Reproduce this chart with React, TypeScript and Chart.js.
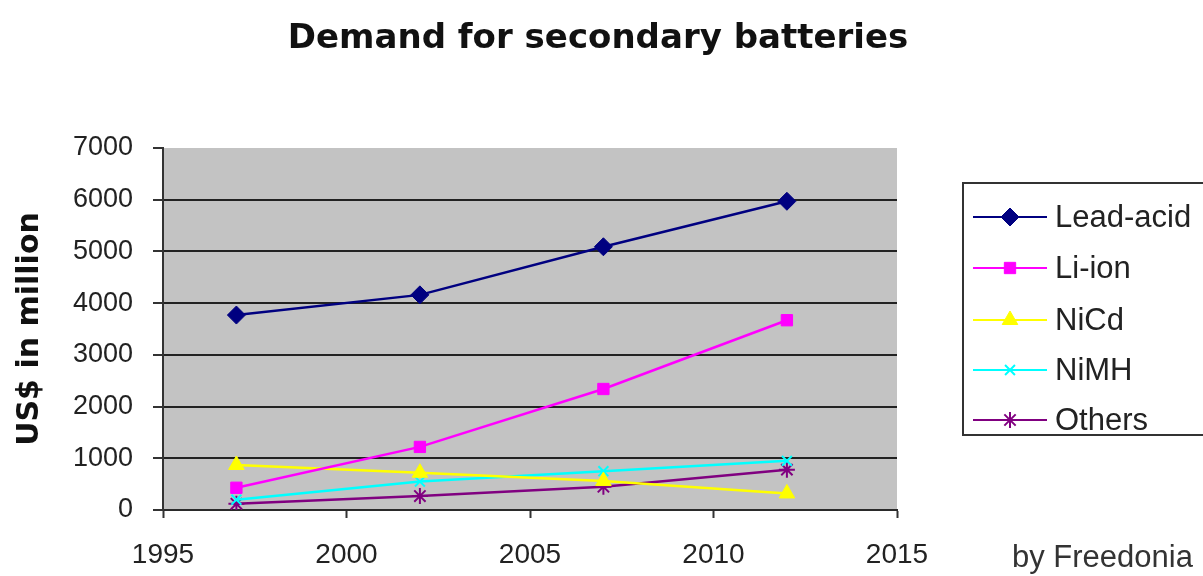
import React, { useEffect, useRef } from "react";
import { Chart, registerables } from "chart.js";
import { drawPoint } from "chart.js/helpers";

Chart.register(...registerables);

const years = [1997, 2002, 2007, 2012];
const leadAcid = [3770, 4160, 5090, 5970];
const liIon = [430, 1220, 2340, 3670];
const niCd = [870, 720, 560, 320];
const niMH = [200, 550, 750, 950];
const others = [120, 270, 450, 780];

const seriesNames = ["Lead-acid", "Li-ion", "NiCd", "NiMH", "Others"];
const yTicks = [0, 1000, 2000, 3000, 4000, 5000, 6000, 7000];
const xTicks = [1995, 2000, 2005, 2010, 2015];

const titleText = "Demand for secondary batteries";
const yTitle = "US$ in million";
const sourceText = "by Freedonia";

const pts = (vals: number[]) => years.map((y, i) => ({ x: y, y: vals[i] }));

const bgPlugin = {
  id: "bgPlugin",
  beforeDraw(chart: any) {
    const { ctx, chartArea: a } = chart;
    ctx.save();
    ctx.fillStyle = "#ffffff";
    ctx.fillRect(0, 0, chart.width, chart.height);
    ctx.fillStyle = "#c3c3c3";
    ctx.fillRect(a.left, a.top, a.right - a.left, a.bottom - a.top);
    ctx.restore();
  },
  afterDraw(chart: any) {
    const { ctx } = chart;
    ctx.save();
    // title
    ctx.fillStyle = "#111";
    ctx.font = "bold 34px 'DejaVu Sans'";
    ctx.textAlign = "center";
    ctx.textBaseline = "alphabetic";
    ctx.fillText(titleText, 598, 48);
    // source
    ctx.fillStyle = "#333";
    ctx.font = "31px 'Liberation Sans'";
    ctx.textAlign = "left";
    ctx.fillText(sourceText, 1012, 567);
    // legend
    const bx = 963, by = 183, bw = 260, bh = 252;
    ctx.strokeStyle = "#333";
    ctx.lineWidth = 2;
    ctx.strokeRect(bx, by, bw, bh);
    const rows = [217, 268, 320, 370, 420];
    chart.data.datasets.forEach((ds: any, i: number) => {
      const y = rows[i];
      ctx.strokeStyle = ds.borderColor;
      ctx.lineWidth = 2;
      ctx.beginPath();
      ctx.moveTo(973, y);
      ctx.lineTo(1047, y);
      ctx.stroke();
      ctx.save();
      ctx.fillStyle = ds.pointBackgroundColor;
      ctx.strokeStyle = ds.pointBorderColor;
      ctx.lineWidth = ds.pointBorderWidth;
      drawPoint(ctx, {
        pointStyle: ds.pointStyle,
        radius: ds.pointRadius,
        borderWidth: ds.pointBorderWidth,
        rotation: 0,
      } as any, 1010, y);
      ctx.restore();
      ctx.fillStyle = "#222";
      ctx.font = "31px 'Liberation Sans'";
      ctx.textAlign = "left";
      ctx.textBaseline = "middle";
      ctx.fillText(ds.label, 1055, y + 1);
    });
    ctx.restore();
  },
};

export default function App() {
  const ref = useRef<HTMLCanvasElement>(null);
  useEffect(() => {
    document.body.style.margin = "0";
    const mk = (label: string, vals: number[], color: string, style: string, r: number, bw: number) => ({
      label,
      data: pts(vals),
      borderColor: color,
      backgroundColor: color,
      borderWidth: 2.5,
      pointStyle: style,
      pointRadius: r,
      pointBorderWidth: bw,
      pointBackgroundColor: color,
      pointBorderColor: color,
      tension: 0,
    });
    const chart = new Chart(ref.current!, {
      type: "line",
      data: {
        datasets: [
          mk(seriesNames[0], leadAcid, "#000080", "rectRot", 9, 1),
          mk(seriesNames[1], liIon, "#ff00ff", "rect", 8, 1),
          mk(seriesNames[2], niCd, "#ffff00", "triangle", 9, 1),
          mk(seriesNames[3], niMH, "#00ffff", "crossRot", 7, 2),
          mk(seriesNames[4], others, "#800080", "star", 8, 2),
        ] as any,
      },
      options: {
        responsive: false,
        animation: false,
        devicePixelRatio: 1,
        layout: { padding: { left: 0, right: 306, top: 148, bottom: 0 } },
        plugins: {
          legend: { display: false },
          title: { display: false },
          tooltip: { enabled: false },
        },
        scales: {
          x: {
            type: "linear",
            min: 1995,
            max: 2015,
            afterBuildTicks: (s: any) => {
              s.ticks = xTicks.map((v) => ({ value: v }));
            },
            afterFit: (s: any) => {
              s.height = 66;
            },
            ticks: {
              color: "#222",
              font: { family: "'Liberation Sans'", size: 28 },
              padding: 20,
              maxRotation: 0,
              autoSkip: false,
              callback: (v: any) => String(v),
            },
            grid: {
              drawOnChartArea: false,
              drawTicks: true,
              tickLength: 8,
              tickColor: "#333",
              tickWidth: 2,
            },
            border: { display: true, color: "#2a2a2a", width: 2 },
          },
          y: {
            min: 0,
            max: 7000,
            afterBuildTicks: (s: any) => {
              s.ticks = yTicks.map((v) => ({ value: v }));
            },
            afterFit: (s: any) => {
              s.width = 163;
            },
            ticks: {
              color: "#222",
              font: { family: "'Liberation Sans'", size: 27 },
              padding: 20,
              callback: (v: any) => String(v),
            },
            grid: {
              color: (c: any) => (c.tick && c.tick.value === 7000 ? "rgba(0,0,0,0)" : "#222"),
              lineWidth: 2,
              tickLength: 10,
              tickColor: "#333",
              tickWidth: 2,
            },
            border: { display: true, color: "#333", width: 2 },
            title: {
              display: true,
              text: yTitle,
              color: "#111",
              font: { family: "'DejaVu Sans'", size: 30, weight: "bold" },
              padding: { top: 12, bottom: 0 },
            },
          },
        },
      },
      plugins: [bgPlugin],
    });
    return () => chart.destroy();
  }, []);
  return <canvas ref={ref} width={1203} height={576} />;
}
